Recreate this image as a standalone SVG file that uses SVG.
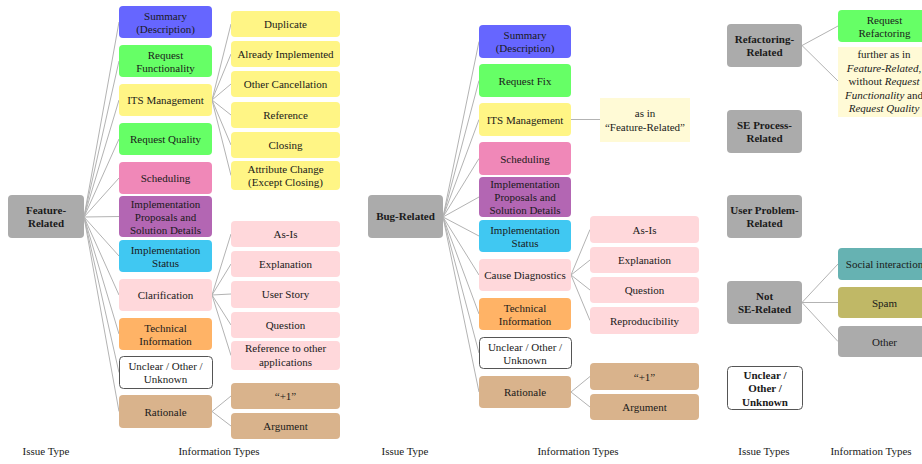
<svg xmlns="http://www.w3.org/2000/svg" width="922" height="464" viewBox="0 0 922 464">
<style>
text{font-family:"Liberation Serif","Times New Roman",serif;font-size:11px;fill:#1a1a1a;text-anchor:middle}
.b{font-weight:bold}
.i{font-style:italic}
.lbl{font-size:11px}
rect{stroke:none}
.issue{fill:#ababab}
.white{fill:#fff;stroke:#555;stroke-width:1}
.blue{fill:#6666ff}
.green{fill:#66ff66}
.yellow{fill:#fff585}
.pinkd{fill:#f088b8}
.purple{fill:#b366b3}
.cyan{fill:#40c8f2}
.pinkl{fill:#ffd8db}
.orange{fill:#ffb366}
.tan{fill:#d9b38c}
.note{fill:#fffad6}
.teal{fill:#66b2b2}
.olive{fill:#c0b866}
.grey{fill:#ababab}
#connectors line{stroke:#b3b3b3;stroke-width:1;fill:none}
</style>
<g id="connectors">
<!-- Feature-Related -->
<line x1="84" y1="217" x2="119" y2="22"/>
<line x1="84" y1="217" x2="119" y2="61"/>
<line x1="84" y1="217" x2="119" y2="100"/>
<line x1="84" y1="217" x2="119" y2="139"/>
<line x1="84" y1="217" x2="119" y2="178"/>
<line x1="84" y1="217" x2="119" y2="216.5"/>
<line x1="84" y1="217" x2="119" y2="256"/>
<line x1="84" y1="217" x2="119" y2="295"/>
<line x1="84" y1="217" x2="119" y2="334"/>
<line x1="84" y1="217" x2="119" y2="372.5"/>
<line x1="84" y1="217" x2="119" y2="411.5"/>
<line x1="212" y1="100" x2="231" y2="24"/>
<line x1="212" y1="100" x2="231" y2="54"/>
<line x1="212" y1="100" x2="231" y2="84"/>
<line x1="212" y1="100" x2="231" y2="115"/>
<line x1="212" y1="100" x2="231" y2="145"/>
<line x1="212" y1="100" x2="231" y2="175.5"/>
<line x1="212" y1="295" x2="231" y2="234"/>
<line x1="212" y1="295" x2="231" y2="264"/>
<line x1="212" y1="295" x2="231" y2="294"/>
<line x1="212" y1="295" x2="231" y2="325"/>
<line x1="212" y1="295" x2="231" y2="355.5"/>
<line x1="212" y1="411.5" x2="231" y2="396"/>
<line x1="212" y1="411.5" x2="231" y2="426"/>
<!-- Bug-Related -->
<line x1="443" y1="217" x2="479" y2="41.5"/>
<line x1="443" y1="217" x2="479" y2="80.5"/>
<line x1="443" y1="217" x2="479" y2="119.5"/>
<line x1="443" y1="217" x2="479" y2="158.5"/>
<line x1="443" y1="217" x2="479" y2="197"/>
<line x1="443" y1="217" x2="479" y2="236"/>
<line x1="443" y1="217" x2="479" y2="275"/>
<line x1="443" y1="217" x2="479" y2="314"/>
<line x1="443" y1="217" x2="479" y2="353"/>
<line x1="443" y1="217" x2="479" y2="392"/>
<line x1="571" y1="119.5" x2="600" y2="119.5"/>
<line x1="571" y1="275" x2="590" y2="229.5"/>
<line x1="571" y1="275" x2="590" y2="260"/>
<line x1="571" y1="275" x2="590" y2="290"/>
<line x1="571" y1="275" x2="590" y2="320.5"/>
<line x1="571" y1="392" x2="590" y2="376.5"/>
<line x1="571" y1="392" x2="590" y2="407"/>
<!-- Right -->
<line x1="802" y1="45.5" x2="838" y2="26"/>
<line x1="802" y1="45.5" x2="838" y2="81"/>
<line x1="802" y1="302.5" x2="838" y2="264"/>
<line x1="802" y1="302.5" x2="838" y2="302.5"/>
<line x1="802" y1="302.5" x2="838" y2="341.5"/>
</g>

<!-- ===== Feature-Related panel ===== -->
<g id="feature-related"><rect class="issue" x="8" y="195" width="76" height="43" rx="4"/><text class="b" x="46" y="214">Feature-</text><text class="b" x="46" y="227">Related</text></g>
<g id="f-summary"><rect class="blue" x="119" y="6" width="93" height="32" rx="4"/><text x="165.5" y="19.5">Summary</text><text x="165.5" y="32.5">(Description)</text></g>
<g id="f-reqfunc"><rect class="green" x="119" y="45" width="93" height="32" rx="4"/><text x="165.5" y="58.5">Request</text><text x="165.5" y="71.5">Functionality</text></g>
<g id="f-its"><rect class="yellow" x="119" y="84" width="93" height="32" rx="4"/><text x="165.5" y="104">ITS Management</text></g>
<g id="f-reqqual"><rect class="green" x="119" y="123" width="93" height="32" rx="4"/><text x="165.5" y="143">Request Quality</text></g>
<g id="f-sched"><rect class="pinkd" x="119" y="162" width="93" height="32" rx="4"/><text x="165.5" y="182">Scheduling</text></g>
<g id="f-implprop"><rect class="purple" x="119" y="196" width="93" height="41" rx="4"/><text x="165.5" y="207.5">Implementation</text><text x="165.5" y="220.5">Proposals and</text><text x="165.5" y="233.5">Solution Details</text></g>
<g id="f-implstat"><rect class="cyan" x="119" y="240" width="93" height="32" rx="4"/><text x="165.5" y="253.5">Implementation</text><text x="165.5" y="266.5">Status</text></g>
<g id="f-clar"><rect class="pinkl" x="119" y="279" width="93" height="32" rx="4"/><text x="165.5" y="299">Clarification</text></g>
<g id="f-tech"><rect class="orange" x="119" y="318" width="93" height="32" rx="4"/><text x="165.5" y="331.5">Technical</text><text x="165.5" y="344.5">Information</text></g>
<g id="f-unclear"><rect class="white" x="119.5" y="356.5" width="93" height="32" rx="4"/><text x="165.5" y="370">Unclear / Other /</text><text x="165.5" y="383">Unknown</text></g>
<g id="f-rationale"><rect class="tan" x="119" y="395" width="93" height="33" rx="4"/><text x="165.5" y="415.5">Rationale</text></g>

<g id="f-dup"><rect class="yellow" x="231" y="11" width="109" height="26" rx="4"/><text x="285.5" y="28">Duplicate</text></g>
<g id="f-already"><rect class="yellow" x="231" y="41" width="109" height="26" rx="4"/><text x="285.5" y="58">Already Implemented</text></g>
<g id="f-othercancel"><rect class="yellow" x="231" y="71" width="109" height="26" rx="4"/><text x="285.5" y="88">Other Cancellation</text></g>
<g id="f-reference"><rect class="yellow" x="231" y="102" width="109" height="26" rx="4"/><text x="285.5" y="119">Reference</text></g>
<g id="f-closing"><rect class="yellow" x="231" y="132" width="109" height="26" rx="4"/><text x="285.5" y="149">Closing</text></g>
<g id="f-attr"><rect class="yellow" x="231" y="161" width="109" height="29" rx="4"/><text x="285.5" y="172.5">Attribute Change</text><text x="285.5" y="186">(Except Closing)</text></g>
<g id="f-asis"><rect class="pinkl" x="231" y="221" width="109" height="26" rx="4"/><text x="285.5" y="238">As-Is</text></g>
<g id="f-expl"><rect class="pinkl" x="231" y="251" width="109" height="26" rx="4"/><text x="285.5" y="268">Explanation</text></g>
<g id="f-userstory"><rect class="pinkl" x="231" y="281" width="109" height="27" rx="4"/><text x="285.5" y="298">User Story</text></g>
<g id="f-question"><rect class="pinkl" x="231" y="312" width="109" height="26" rx="4"/><text x="285.5" y="329">Question</text></g>
<g id="f-refother"><rect class="pinkl" x="231" y="341" width="109" height="29" rx="4"/><text x="285.5" y="352">Reference to other</text><text x="285.5" y="366">applications</text></g>
<g id="f-plus1"><rect class="tan" x="231" y="383" width="109" height="26" rx="4"/><text x="285.5" y="400">“+1”</text></g>
<g id="f-argument"><rect class="tan" x="231" y="413" width="109" height="26" rx="4"/><text x="285.5" y="430">Argument</text></g>

<text class="lbl" x="46" y="455">Issue Type</text>
<text class="lbl" x="219" y="455">Information Types</text>

<!-- ===== Bug-Related panel ===== -->
<g id="bug-related"><rect class="issue" x="368" y="195" width="75" height="43" rx="4"/><text class="b" x="405.5" y="220">Bug-Related</text></g>
<g id="b-summary"><rect class="blue" x="479" y="25" width="92" height="33" rx="4"/><text x="525" y="39">Summary</text><text x="525" y="52">(Description)</text></g>
<g id="b-reqfix"><rect class="green" x="479" y="64" width="92" height="33" rx="4"/><text x="525" y="84.5">Request Fix</text></g>
<g id="b-its"><rect class="yellow" x="479" y="103" width="92" height="33" rx="4"/><text x="525" y="123.5">ITS Management</text></g>
<g id="b-sched"><rect class="pinkd" x="479" y="142" width="92" height="33" rx="4"/><text x="525" y="162.5">Scheduling</text></g>
<g id="b-implprop"><rect class="purple" x="479" y="177" width="92" height="40" rx="4"/><text x="525" y="188">Implementation</text><text x="525" y="201">Proposals and</text><text x="525" y="214">Solution Details</text></g>
<g id="b-implstat"><rect class="cyan" x="479" y="220" width="92" height="32" rx="4"/><text x="525" y="233.5">Implementation</text><text x="525" y="246.5">Status</text></g>
<g id="b-cause"><rect class="pinkl" x="479" y="259" width="92" height="32" rx="4"/><text x="525" y="279">Cause Diagnostics</text></g>
<g id="b-tech"><rect class="orange" x="479" y="298" width="92" height="32" rx="4"/><text x="525" y="311.5">Technical</text><text x="525" y="324.5">Information</text></g>
<g id="b-unclear"><rect class="white" x="479.5" y="337.5" width="92" height="31" rx="4"/><text x="525" y="350.5">Unclear / Other /</text><text x="525" y="364">Unknown</text></g>
<g id="b-rationale"><rect class="tan" x="479" y="376" width="92" height="32" rx="4"/><text x="525" y="396">Rationale</text></g>
<g id="b-asin"><rect class="note" x="600" y="98" width="90" height="44"/><text x="645" y="117">as in</text><text x="645" y="131">“Feature-Related”</text></g>
<g id="b-asis"><rect class="pinkl" x="590" y="216" width="109" height="27" rx="4"/><text x="644.5" y="233.5">As-Is</text></g>
<g id="b-expl"><rect class="pinkl" x="590" y="247" width="109" height="26" rx="4"/><text x="644.5" y="264">Explanation</text></g>
<g id="b-question"><rect class="pinkl" x="590" y="277" width="109" height="26" rx="4"/><text x="644.5" y="294">Question</text></g>
<g id="b-repro"><rect class="pinkl" x="590" y="307" width="109" height="27" rx="4"/><text x="644.5" y="324.5">Reproducibility</text></g>
<g id="b-plus1"><rect class="tan" x="590" y="363" width="109" height="27" rx="4"/><text x="644.5" y="380.5">“+1”</text></g>
<g id="b-argument"><rect class="tan" x="590" y="394" width="109" height="26" rx="4"/><text x="644.5" y="411">Argument</text></g>

<text class="lbl" x="405" y="455">Issue Type</text>
<text class="lbl" x="578" y="455">Information Types</text>

<!-- ===== Right panel ===== -->
<g id="refactoring-related"><rect class="issue" x="727" y="24" width="75" height="43" rx="4"/><text class="b" x="764.5" y="43">Refactoring-</text><text class="b" x="764.5" y="56">Related</text></g>
<g id="se-process-related"><rect class="issue" x="727" y="110" width="75" height="43" rx="4"/><text class="b" x="764.5" y="129">SE Process-</text><text class="b" x="764.5" y="142">Related</text></g>
<g id="user-problem-related"><rect class="issue" x="727" y="195" width="75" height="43" rx="4"/><text class="b" x="764.5" y="214">User Problem-</text><text class="b" x="764.5" y="227">Related</text></g>
<g id="not-se-related"><rect class="issue" x="727" y="281" width="75" height="43" rx="4"/><text class="b" x="764.5" y="300">Not</text><text class="b" x="764.5" y="313">SE-Related</text></g>
<g id="unclear-issue"><rect class="white" x="727.5" y="366.5" width="75" height="43" rx="4"/><text class="b" x="765" y="378.5">Unclear /</text><text class="b" x="765" y="392">Other /</text><text class="b" x="765" y="405.5">Unknown</text></g>
<g id="r-reqrefactor"><rect class="green" x="838" y="10" width="93" height="32" rx="4"/><text x="884.5" y="23.5">Request</text><text x="884.5" y="36.5">Refactoring</text></g>
<g id="r-further"><rect class="note" x="838" y="47" width="93" height="70"/><text x="884" y="57.5">further as in</text><text x="884" y="71.5"><tspan class="i">Feature-Related</tspan>,</text><text x="884" y="85">without <tspan class="i">Request</tspan></text><text x="884" y="98.5"><tspan class="i">Functionality</tspan> and</text><text x="884" y="112"><tspan class="i">Request Quality</tspan></text></g>
<g id="r-social"><rect class="teal" x="838" y="248" width="93" height="32" rx="4"/><text x="884.5" y="268">Social interaction</text></g>
<g id="r-spam"><rect class="olive" x="838" y="287" width="93" height="31" rx="4"/><text x="884.5" y="306.5">Spam</text></g>
<g id="r-other"><rect class="grey" x="838" y="326" width="93" height="31" rx="4"/><text x="884.5" y="345.5">Other</text></g>

<text class="lbl" x="764" y="455">Issue Types</text>
<text class="lbl" x="871" y="455">Information Types</text>
</svg>
